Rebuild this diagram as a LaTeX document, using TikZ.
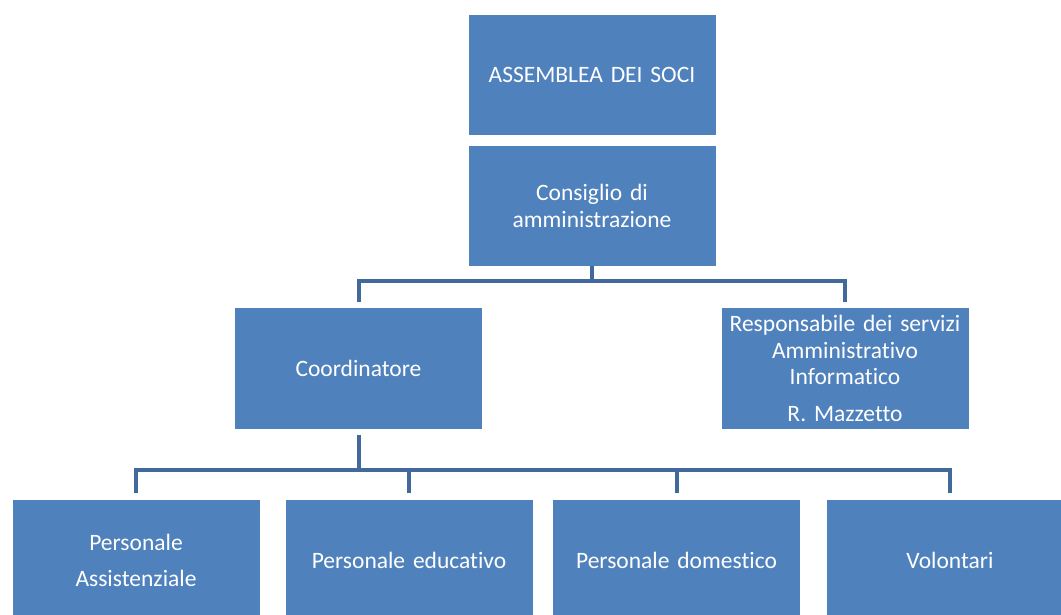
\documentclass[tikz,border=0pt]{standalone}
\usepackage{fontspec}
\setmainfont[Ligatures=NoCommon]{Carlito}
\definecolor{boxblue}{HTML}{4F81BD}
\definecolor{lineblue}{HTML}{41699B}
\begin{document}
\begin{tikzpicture}[x=1pt,y=-1pt,
  box/.style={fill=boxblue, draw=none, minimum width=247pt, minimum height=121pt,
    inner sep=0pt, text=white, align=center, text width=245pt,
    font=\fontsize{23.5pt}{26.5pt}\selectfont},
  conn/.style={draw=lineblue, line width=4pt}]
\useasboundingbox (0,0) rectangle (1061,614);
\node[box, minimum height=120pt] (ass) at (592,75) {ASSEMBLEA DEI SOCI};
\node[box, minimum height=120pt] (cons) at (592,206) {Consiglio di\\amministrazione};
\node[box] (coord) at (358.5,368.5) {Coordinatore};
\node[box] (resp) at (845,368.5) {Responsabile dei servizi\\Amministrativo\\Informatico\\[10pt]R. Mazzetto};
\node[box, minimum height=120pt] (p1) at (136,560) {Personale\\[9.5pt]Assistenziale};
\node[box, minimum height=120pt] (p2) at (409,560) {Personale educativo};
\node[box, minimum height=120pt] (p3) at (676.5,560) {Personale domestico};
\node[box, minimum height=120pt] (p4) at (950,560) {Volontari};
% connectors
\path (cons.south) ++(0,15) coordinate (bus1);
\draw[conn] (cons.south) -- (bus1);
\draw[conn, shorten >=6pt] (bus1) -| (coord.north);
\draw[conn, shorten >=6pt] (bus1) -| (resp.north);
\path (coord.south) ++(0,41) coordinate (bus2);
\draw[conn, shorten <=6pt] (coord.south) -- (bus2);
\draw[conn, shorten >=7pt] (bus2) -| (p1.north);
\draw[conn, shorten >=7pt] (bus2) -| (p2.north);
\draw[conn, shorten >=7pt] (bus2) -| (p3.north);
\draw[conn, shorten >=7pt] (bus2) -| (p4.north);
\end{tikzpicture}
\end{document}
